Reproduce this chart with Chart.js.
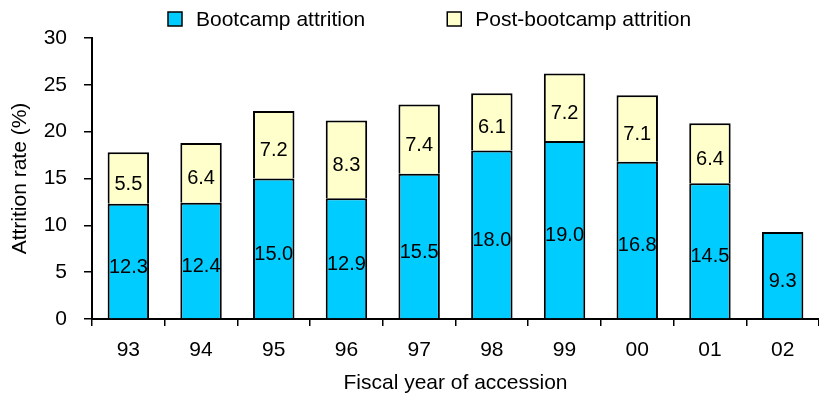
<!DOCTYPE html>
<html>
  <head>
    <title>Attrition rate</title>
    <style>
      body { margin: 0; background: #fff; }
      #wrap { width: 819px; height: 397px; }
    </style>
  </head>
  <body>
    <div id="wrap"><canvas id="attritionChart"></canvas></div>

    <script src="https://cdn.jsdelivr.net/npm/chart.js"></script>
    <script>
      // fiscal years and attrition rates (%)
      var years = ["93", "94", "95", "96", "97", "98", "99", "00", "01", "02"];
      var bootcamp = [12.3, 12.4, 15.0, 12.9, 15.5, 18.0, 19.0, 16.8, 14.5, 9.3];
      var postBootcamp = [5.5, 6.4, 7.2, 8.3, 7.4, 6.1, 7.2, 7.1, 6.4, null];
      var yMin = 0, yMax = 30, yStep = 5;

      var FONT = "'Liberation Sans', Arial, sans-serif";

      // value printed in the middle of each bar segment
      var valueLabels = {
        id: "valueLabels",
        afterDatasetsDraw: function (chart) {
          var ctx = chart.ctx;
          ctx.save();
          ctx.font = "20px " + FONT;
          ctx.fillStyle = "#000";
          ctx.textAlign = "center";
          ctx.textBaseline = "middle";
          chart.data.datasets.forEach(function (ds, i) {
            chart.getDatasetMeta(i).data.forEach(function (bar, j) {
              var v = ds.data[j];
              if (v == null) return;
              ctx.fillText(v.toFixed(1), bar.x, (bar.y + bar.base) / 2 + 6);
            });
          });
          ctx.restore();
        }
      };

      // legend row above the plot
      var topLegend = {
        id: "topLegend",
        afterDraw: function (chart) {
          var ctx = chart.ctx;
          var x = chart.chartArea.left + 76;
          var y = 19;
          ctx.save();
          ctx.font = "21px " + FONT;
          ctx.textBaseline = "middle";
          chart.data.datasets.forEach(function (ds) {
            ctx.fillStyle = ds.backgroundColor;
            ctx.fillRect(x, y - 7, 14, 14);
            ctx.strokeStyle = "#000";
            ctx.lineWidth = 1.5;
            ctx.strokeRect(x, y - 7, 14, 14);
            ctx.fillStyle = "#000";
            ctx.fillText(ds.label, x + 28, y + 1);
            x += 28 + ctx.measureText(ds.label).width + 82;
          });
          ctx.restore();
        }
      };

      new Chart(document.getElementById("attritionChart"), {
        type: "bar",
        data: {
          labels: years,
          datasets: [
            {
              label: "Bootcamp attrition",
              data: bootcamp,
              backgroundColor: "#00CCFF",
              borderColor: "#000",
              borderWidth: 2
            },
            {
              label: "Post-bootcamp attrition",
              data: postBootcamp,
              backgroundColor: "#FFFFCC",
              borderColor: "#000",
              borderWidth: 2
            }
          ]
        },
        options: {
          responsive: true,
          maintainAspectRatio: false,
          animation: false,
          layout: { padding: { top: 38, right: -7, left: 0, bottom: 0 } },
          barPercentage: 0.57,
          categoryPercentage: 1,
          plugins: {
            legend: { display: false },
            tooltip: { enabled: false }
          },
          scales: {
            x: {
              stacked: true,
              afterFit: function (s) { s.height = 78; },
              grid: {
                offset: true,
                drawOnChartArea: false,
                drawTicks: true,
                tickLength: 7,
                color: "#000",
                lineWidth: 1.5
              },
              border: { color: "#000", width: 2 },
              ticks: { color: "#000", padding: 12, font: { family: FONT, size: 21 } },
              title: {
                display: true,
                text: "Fiscal year of accession",
                color: "#000",
                padding: { top: 0, bottom: 1 },
                font: { family: FONT, size: 21 }
              }
            },
            y: {
              stacked: true,
              min: yMin,
              max: yMax,
              afterFit: function (s) { s.width = 92; },
              grid: {
                drawOnChartArea: false,
                drawTicks: true,
                tickLength: 8,
                color: "#000",
                lineWidth: 1.5
              },
              border: { color: "#000", width: 2 },
              ticks: {
                stepSize: yStep,
                color: "#000",
                padding: 17,
                font: { family: FONT, size: 21 }
              },
              title: {
                display: true,
                text: "Attrition rate (%)",
                color: "#000",
                padding: { top: 8, bottom: 0 },
                font: { family: FONT, size: 21 }
              }
            }
          }
        },
        plugins: [valueLabels, topLegend]
      });
    </script>
  </body>
</html>
